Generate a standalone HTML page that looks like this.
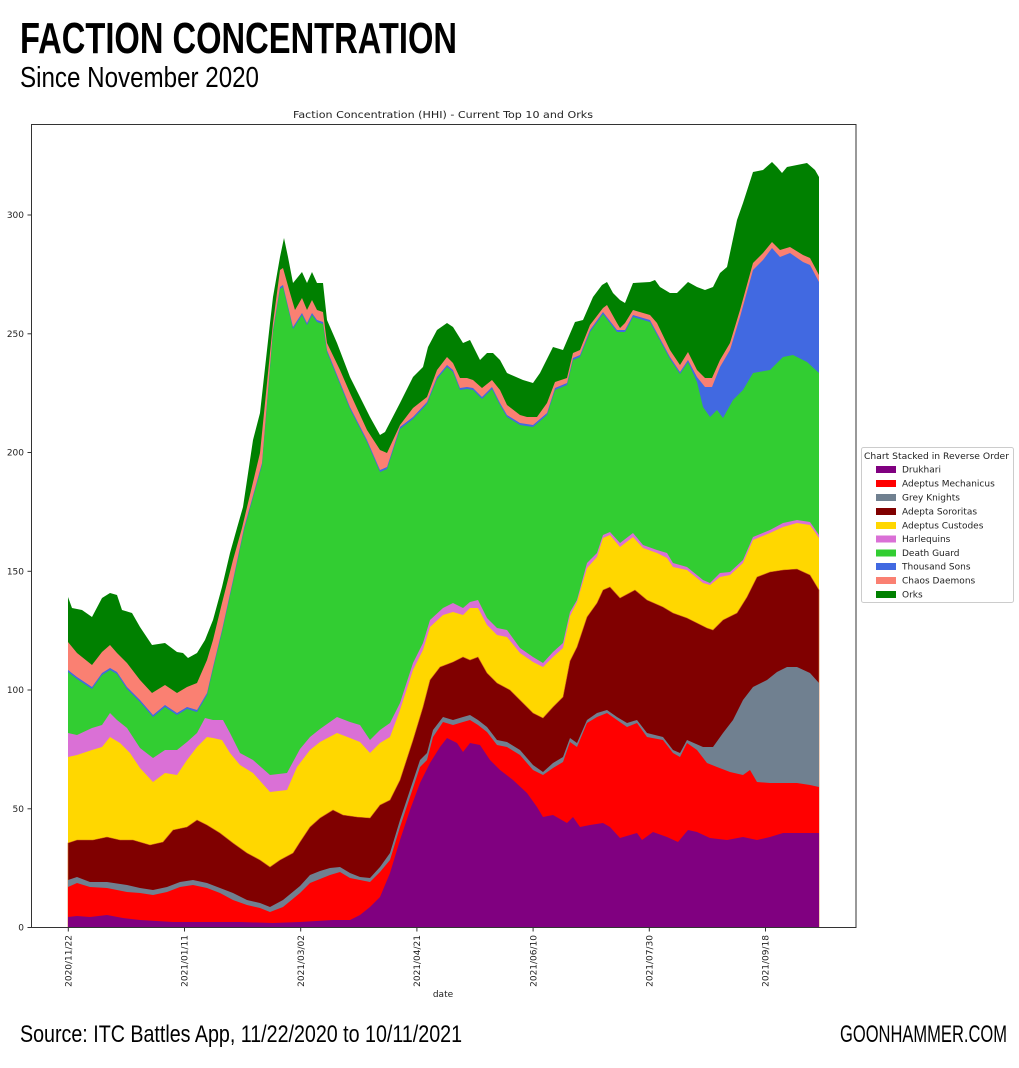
<!DOCTYPE html>
<html>
<head>
<meta charset="utf-8">
<style>
  html, body { margin:0; padding:0; background:#fff; }
  svg { display:block; }
  .tk { font-family:"DejaVu Sans","Liberation Sans",sans-serif; font-size:9px; fill:#222; }
  .lg { font-family:"DejaVu Sans","Liberation Sans",sans-serif; font-size:9px; fill:#222; }
</style>
</head>
<body>
<svg width="1019" height="1068" viewBox="0 0 1019 1068" xmlns="http://www.w3.org/2000/svg">
  <rect x="0" y="0" width="1019" height="1068" fill="#fff"/>

  <!-- Header -->
  <text x="20" y="53" font-family="'Liberation Sans Narrow','Liberation Sans',sans-serif" font-weight="bold" font-size="44" textLength="437" lengthAdjust="spacingAndGlyphs" fill="#000">FACTION CONCENTRATION</text>
  <text x="20" y="87" font-family="'Liberation Sans Narrow','Liberation Sans',sans-serif" font-size="29" textLength="239" lengthAdjust="spacingAndGlyphs" fill="#000">Since November 2020</text>

  <!-- Chart title -->
  <text x="443" y="118" text-anchor="middle" font-family="'DejaVu Sans','Liberation Sans',sans-serif" font-size="10" textLength="300" lengthAdjust="spacingAndGlyphs" fill="#222">Faction Concentration (HHI) - Current Top 10 and Orks</text>

  <!-- Stacked areas (cumulative, drawn top first) -->
  <g stroke="none">
    <!-- Orks (total) -->
    <polygon fill="#008000" points="68,597 72,608 82,610 92,617 102,598 110,593 117,595 122,610 132,613 140,627 152,645 165,643 177,652 183,653 188,658 197,653 205,640 213,620 222,587 230,553 237,528 243,507 253,440 260,413 270,323 273,297 280,257 284,238 288,257 293,283 302,272 307,283 312,272 317,283 323,283 327,320 337,343 350,377 358,393 370,417 380,435 385,432 400,403 413,377 423,367 428,347 437,330 447,323 453,327 463,343 470,340 480,360 487,353 493,353 500,360 507,373 523,380 533,383 540,373 553,347 563,350 575,322 583,320 593,297 602,285 607,282 613,293 620,300 625,303 633,283 650,282 655,280 660,287 670,293 677,293 688,282 697,287 705,290 713,287 720,273 727,267 737,220 743,203 753,172 763,170 772,162 777,167 782,173 787,167 797,165 807,163 815,170 819,177 819,927.5 68,927.5"/>
    <!-- Chaos Daemons -->
    <polygon fill="#FA8072" points="68,642 77,653 92,665 102,652 110,645 117,653 127,663 140,680 152,693 165,685 177,693 187,687 197,683 207,660 213,640 222,603 233,560 242,528 260,453 273,323 280,270 283,268 290,293 295,310 302,298 307,310 312,300 317,310 323,312 327,343 340,370 350,393 367,430 380,450 387,453 400,425 413,408 427,397 437,370 447,357 453,363 460,378 467,378 473,380 482,388 492,380 500,390 507,405 520,415 527,417 537,417 547,403 555,382 567,378 573,353 580,350 590,325 603,308 607,305 617,323 620,328 625,323 633,310 650,315 657,323 670,350 680,365 688,352 697,370 705,378 712,378 720,360 730,343 740,310 753,263 763,253 772,242 780,250 790,247 803,255 810,258 819,275 819,927.5 68,927.5"/>
    <!-- Thousand Sons -->
    <polygon fill="#4169E1" points="68,670 77,677 92,687 102,673 110,668 117,672 127,687 140,700 153,715 165,705 177,713 187,707 197,710 207,693 213,667 222,630 233,580 244,528 262,463 273,330 280,287 283,285 293,327 302,313 307,323 312,313 317,320 323,322 327,350 350,407 367,440 380,470 387,467 400,427 413,417 427,402 437,377 447,365 453,370 460,388 467,387 473,388 482,397 492,387 500,403 507,415 520,423 533,425 547,413 555,388 567,383 573,358 580,355 590,330 603,312 617,330 625,330 633,315 650,320 670,357 680,372 688,360 697,377 705,387 712,387 720,367 730,350 740,317 753,270 763,260 772,248 780,257 790,253 803,262 810,265 819,282 819,927.5 68,927.5"/>
    <!-- Death Guard -->
    <polygon fill="#32CD32" points="68,672 77,679 92,689 102,675 110,670 117,674 127,689 140,702 153,717 165,707 177,715 187,709 197,712 207,695 213,669 222,632 233,582 244,530 262,465 273,332 280,289 283,287 293,329 302,315 307,325 312,315 317,322 323,324 327,352 350,409 367,442 380,472 387,469 400,429 413,419 427,404 437,379 447,367 453,372 460,390 467,389 473,390 482,399 492,389 500,405 507,417 520,425 533,427 547,415 555,390 567,385 573,360 580,357 590,332 603,314 617,332 625,332 633,317 650,322 670,359 680,374 688,362 697,382 703,407 710,417 717,410 723,418 733,400 743,390 753,373 770,370 783,357 793,355 807,362 819,373 819,927.5 68,927.5"/>
    <!-- Harlequins -->
    <polygon fill="#DA70D6" points="68,733 77,735 92,728 102,725 110,713 117,720 127,728 140,748 153,758 165,750 177,750 187,742 197,733 205,718 213,720 223,720 230,733 240,753 253,760 270,775 287,773 300,749 310,737 320,729 337,717 350,722 360,725 370,740 380,730 390,723 400,703 413,663 423,643 430,620 443,608 453,603 463,608 470,602 478,600 487,618 497,628 507,630 520,648 533,657 543,663 553,652 563,643 570,612 577,600 587,563 597,553 603,535 610,532 620,543 633,533 643,545 657,550 667,553 673,563 687,567 703,580 710,583 720,573 730,572 743,560 753,537 770,530 783,523 797,520 810,522 819,535 819,927.5 68,927.5"/>
    <!-- Adeptus Custodes -->
    <polygon fill="#FFD700" points="68,757 77,755 92,750 102,747 110,737 120,743 130,753 140,768 153,782 165,773 177,775 187,760 197,747 207,737 213,738 222,740 230,753 240,765 253,773 270,792 287,790 297,767 310,750 320,742 337,733 350,738 360,742 370,753 380,743 390,737 400,710 413,670 423,650 430,627 443,615 453,612 463,615 470,608 478,608 487,625 497,635 507,637 520,653 533,662 543,667 553,657 563,648 570,616 577,602 587,568 597,557 603,538 610,535 620,547 633,537 643,548 657,553 667,558 673,567 687,570 703,583 710,585 720,577 730,575 743,563 753,540 770,533 783,527 797,523 810,525 819,538 819,927.5 68,927.5"/>
    <!-- Adepta Sororitas -->
    <polygon fill="#800000" stroke="#D2691E" stroke-width="0.6" points="68,843 77,840 93,840 107,837 120,840 133,840 150,845 163,842 173,830 187,827 197,820 207,825 220,833 233,843 247,853 260,860 270,867 280,860 293,853 300,842 310,827 320,818 333,810 343,815 357,817 370,818 380,805 390,800 400,780 413,740 423,707 430,680 440,667 453,662 463,657 470,660 478,657 487,673 497,683 510,690 523,703 533,713 543,718 553,707 563,697 570,661 577,647 587,617 597,603 603,590 610,587 620,598 635,590 647,600 663,607 673,613 687,618 697,623 707,628 713,630 723,620 737,613 747,597 757,577 770,572 783,570 797,569 810,575 819,590 819,927.5 68,927.5"/>
    <!-- Grey Knights -->
    <polygon fill="#708090" points="68,880 77,877 90,882 107,882 127,885 140,888 153,890 167,887 180,882 193,880 207,883 220,888 233,893 247,900 260,903 270,907 283,900 300,886 310,875 320,871 330,868 340,867 350,873 360,877 370,878 380,867 390,853 400,820 410,790 420,760 427,753 433,730 443,717 453,720 463,717 470,715 478,720 487,727 497,740 507,742 520,750 533,765 543,772 553,763 563,757 570,738 577,743 587,720 597,713 607,710 617,717 627,723 637,720 647,733 663,737 673,750 680,753 687,740 703,747 713,747 723,733 733,720 743,700 753,687 767,680 777,672 787,667 797,667 810,673 819,683 819,927.5 68,927.5"/>
    <!-- Adeptus Mechanicus -->
    <polygon fill="#FF0000" points="68,887 77,883 90,887 107,888 127,892 140,893 153,895 167,892 180,887 193,885 207,888 220,893 233,900 247,905 260,908 270,912 283,907 300,893 310,883 320,879 330,875 340,872 350,878 360,880 370,882 380,872 390,860 400,827 410,797 420,767 427,760 433,737 443,722 453,725 463,722 470,720 478,725 487,732 497,745 507,747 520,755 533,770 543,775 553,768 563,762 570,742 577,747 587,723 597,717 607,713 617,720 627,727 637,723 647,737 663,740 673,753 680,757 687,743 697,750 707,763 717,767 730,772 743,775 750,770 757,782 770,783 783,783 797,783 810,785 819,787 819,927.5 68,927.5"/>
    <!-- Drukhari -->
    <polygon fill="#800080" points="68,917 77,916 90,917 107,915 123,918 140,920 173,922 207,922 240,922 273,923 300,922 333,920 350,920 360,915 370,907 380,897 390,873 400,840 410,810 420,783 430,763 440,747 447,738 457,743 463,752 470,743 480,745 490,760 500,770 513,780 527,793 537,807 543,817 553,815 567,823 573,817 580,827 590,825 603,823 610,827 620,838 637,833 642,840 653,832 667,837 678,842 688,830 697,832 710,838 727,840 743,837 757,840 770,837 783,833 803,833 819,833 819,927.5 68,927.5"/>
  </g>

  <!-- Axes frame -->
  <rect x="31.5" y="124.5" width="824.5" height="803" fill="none" stroke="#333" stroke-width="1"/>

  <!-- Y ticks -->
  <g stroke="#333" stroke-width="1">
    <line x1="27.5" y1="927.5" x2="31.5" y2="927.5"/>
    <line x1="27.5" y1="808.8" x2="31.5" y2="808.8"/>
    <line x1="27.5" y1="690" x2="31.5" y2="690"/>
    <line x1="27.5" y1="571.3" x2="31.5" y2="571.3"/>
    <line x1="27.5" y1="452.5" x2="31.5" y2="452.5"/>
    <line x1="27.5" y1="333.8" x2="31.5" y2="333.8"/>
    <line x1="27.5" y1="215" x2="31.5" y2="215"/>
  </g>
  <g class="tk" text-anchor="end">
    <text x="24" y="930.7">0</text>
    <text x="24" y="812">50</text>
    <text x="24" y="693.2">100</text>
    <text x="24" y="574.5">150</text>
    <text x="24" y="455.7">200</text>
    <text x="24" y="337">250</text>
    <text x="24" y="218.2">300</text>
  </g>

  <!-- X ticks -->
  <g stroke="#333" stroke-width="1">
    <line x1="68.3" y1="927.5" x2="68.3" y2="931.5"/>
    <line x1="184.5" y1="927.5" x2="184.5" y2="931.5"/>
    <line x1="300.7" y1="927.5" x2="300.7" y2="931.5"/>
    <line x1="416.9" y1="927.5" x2="416.9" y2="931.5"/>
    <line x1="533.1" y1="927.5" x2="533.1" y2="931.5"/>
    <line x1="649.3" y1="927.5" x2="649.3" y2="931.5"/>
    <line x1="765.5" y1="927.5" x2="765.5" y2="931.5"/>
  </g>
  <g class="tk" text-anchor="end">
    <text transform="translate(71.5,935) rotate(-90)">2020/11/22</text>
    <text transform="translate(187.7,935) rotate(-90)">2021/01/11</text>
    <text transform="translate(303.9,935) rotate(-90)">2021/03/02</text>
    <text transform="translate(420.1,935) rotate(-90)">2021/04/21</text>
    <text transform="translate(536.3,935) rotate(-90)">2021/06/10</text>
    <text transform="translate(652.5,935) rotate(-90)">2021/07/30</text>
    <text transform="translate(768.7,935) rotate(-90)">2021/09/18</text>
  </g>
  <text x="443" y="997" text-anchor="middle" class="tk">date</text>

  <!-- Legend -->
  <rect x="861.5" y="447.5" width="152" height="155" rx="2" ry="2" fill="#fff" stroke="#ccc" stroke-width="1"/>
  <text x="864" y="459" class="lg" textLength="145" lengthAdjust="spacingAndGlyphs">Chart Stacked in Reverse Order</text>
  <g>
    <rect x="876" y="466" width="20" height="7" fill="#800080"/>
    <rect x="876" y="480" width="20" height="7" fill="#FF0000"/>
    <rect x="876" y="494" width="20" height="7" fill="#708090"/>
    <rect x="876" y="508" width="20" height="7" fill="#800000"/>
    <rect x="876" y="522" width="20" height="7" fill="#FFD700"/>
    <rect x="876" y="535.5" width="20" height="7" fill="#DA70D6"/>
    <rect x="876" y="549.5" width="20" height="7" fill="#32CD32"/>
    <rect x="876" y="563" width="20" height="7" fill="#4169E1"/>
    <rect x="876" y="577" width="20" height="7" fill="#FA8072"/>
    <rect x="876" y="591" width="20" height="7" fill="#008000"/>
  </g>
  <g class="lg">
    <text x="902" y="472.5">Drukhari</text>
    <text x="902" y="486.5">Adeptus Mechanicus</text>
    <text x="902" y="500.5">Grey Knights</text>
    <text x="902" y="514.5">Adepta Sororitas</text>
    <text x="902" y="528.5">Adeptus Custodes</text>
    <text x="902" y="542">Harlequins</text>
    <text x="902" y="556">Death Guard</text>
    <text x="902" y="569.5">Thousand Sons</text>
    <text x="902" y="583.5">Chaos Daemons</text>
    <text x="902" y="597.5">Orks</text>
  </g>

  <!-- Footer -->
  <text x="20" y="1042" font-family="'Liberation Sans Narrow','Liberation Sans',sans-serif" font-size="24" textLength="442" lengthAdjust="spacingAndGlyphs" fill="#000">Source: ITC Battles App, 11/22/2020 to 10/11/2021</text>
  <text x="840" y="1042" font-family="'Liberation Sans Narrow','Liberation Sans',sans-serif" font-size="24" textLength="167" lengthAdjust="spacingAndGlyphs" fill="#000">GOONHAMMER.COM</text>
</svg>
</body>
</html>
